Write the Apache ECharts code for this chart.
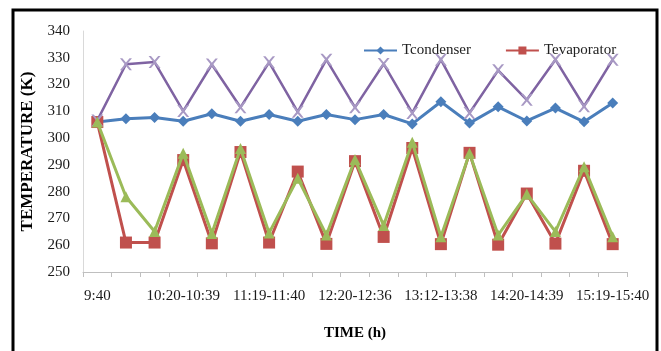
<!DOCTYPE html>
<html>
<head>
<meta charset="utf-8">
<style>html,body{margin:0;padding:0;background:#fff;}#c{width:661px;height:351px;}</style>
<script src="https://cdn.jsdelivr.net/npm/echarts@6/dist/echarts.min.js"></script>
</head>
<body>
<div id="c"></div>
<script>
// Categories (only every third label is printed in the reference)
const categories = ['9:40','','','10:20-10:39','','','11:19-11:40','','','12:20-12:36','','','13:12-13:38','','','14:20-14:39','','','15:19-15:40'];
const tCondenser = [306, 307.2, 307.7, 306.3, 309.1, 306.3, 308.8, 306.3, 308.8, 306.9, 308.8, 305.3, 313.6, 305.6, 311.7, 306.4, 311.2, 306.1, 313.1];
const tEvaporator = [306, 261, 261, 291.8, 260.7, 294.8, 261, 287.5, 260.5, 291.4, 263.1, 296.3, 260.4, 294.5, 260.2, 279.3, 260.6, 287.8, 260.4];
const series3 = [306.6, 327.6, 328.4, 310.1, 327.5, 311.5, 328.3, 309.8, 329.3, 311.5, 327.7, 309.4, 329.3, 309.4, 325.3, 314.3, 329.3, 311.9, 329.3];
const series4 = [306, 278.1, 265.1, 294.3, 264.4, 296.1, 264.6, 285, 263.8, 292, 267.4, 298.5, 263.2, 294.3, 263.8, 279.1, 265.1, 289.3, 263.2];
const yTicks = {min: 250, max: 340, interval: 10};

const serif = 'Liberation Serif, Times New Roman, serif';
const xPath = 'path://M0,0 L2,0 L5,3.5 L8,0 L10,0 L6,5 L10,10 L8,10 L5,6.5 L2,10 L0,10 L4,5 Z';

const chart = echarts.init(document.getElementById('c'));
chart.setOption({
  animation: false,
  backgroundColor: '#fff',
  graphic: [{
    type: 'rect', shape: {x: 13, y: 10, width: 644, height: 350},
    style: {fill: 'none', stroke: '#000', lineWidth: 3}, z: 100
  }],
  grid: {left: 83, right: 34, top: 31, bottom: 79, containLabel: false},
  legend: {
    data: ['Tcondenser', 'Tevaporator'],
    left: 358, top: 38, itemWidth: 33, itemHeight: 10, itemGap: 34,
    textStyle: {fontFamily: serif, fontSize: 15, color: '#222'}
  },
  xAxis: {
    type: 'category', data: categories, boundaryGap: true,
    name: 'TIME (h)', nameLocation: 'middle', nameGap: 54,
    nameTextStyle: {fontFamily: serif, fontSize: 15, fontWeight: 'bold', color: '#000'},
    axisLine: {lineStyle: {color: '#bfbfbf', width: 1}},
    axisTick: {show: true, interval: 0, length: 5, lineStyle: {color: '#bfbfbf'}},
    axisLabel: {interval: 0, margin: 17, fontFamily: serif, fontSize: 15, color: '#1a1a1a'},
    splitLine: {show: false}
  },
  yAxis: {
    type: 'value', min: yTicks.min, max: yTicks.max, interval: yTicks.interval,
    name: 'TEMPERATURE (K)', nameLocation: 'middle', nameGap: 45, nameRotate: 90,
    nameTextStyle: {fontFamily: serif, fontSize: 17, fontWeight: 'bold', color: '#000'},
    axisLine: {show: true, lineStyle: {color: '#d9d9d9', width: 1}},
    axisTick: {show: false},
    axisLabel: {margin: 13, fontFamily: serif, fontSize: 15, color: '#1a1a1a'},
    splitLine: {show: false}
  },
  series: [
    {name: 'Tcondenser', type: 'line', data: tCondenser, symbol: 'diamond', symbolSize: 11,
     lineStyle: {color: '#4a7ebb', width: 3}, itemStyle: {color: '#4a7ebb'}, z: 2},
    {name: 'Tevaporator', type: 'line', data: tEvaporator, symbol: 'rect', symbolSize: 12,
     lineStyle: {color: '#c0504d', width: 3}, itemStyle: {color: '#c0504d'}, z: 3},
    {name: 'Series 3', type: 'line', data: series3, symbol: xPath, symbolSize: 12,
     lineStyle: {color: '#7f63a2', width: 2.5}, itemStyle: {color: '#a899c4'}, z: 4},
    {name: 'Series 4', type: 'line', data: series4, symbol: 'triangle', symbolSize: 11,
     lineStyle: {color: '#9bbb59', width: 3}, itemStyle: {color: '#9bbb59'}, z: 5}
  ]
});
</script>
</body>
</html>
